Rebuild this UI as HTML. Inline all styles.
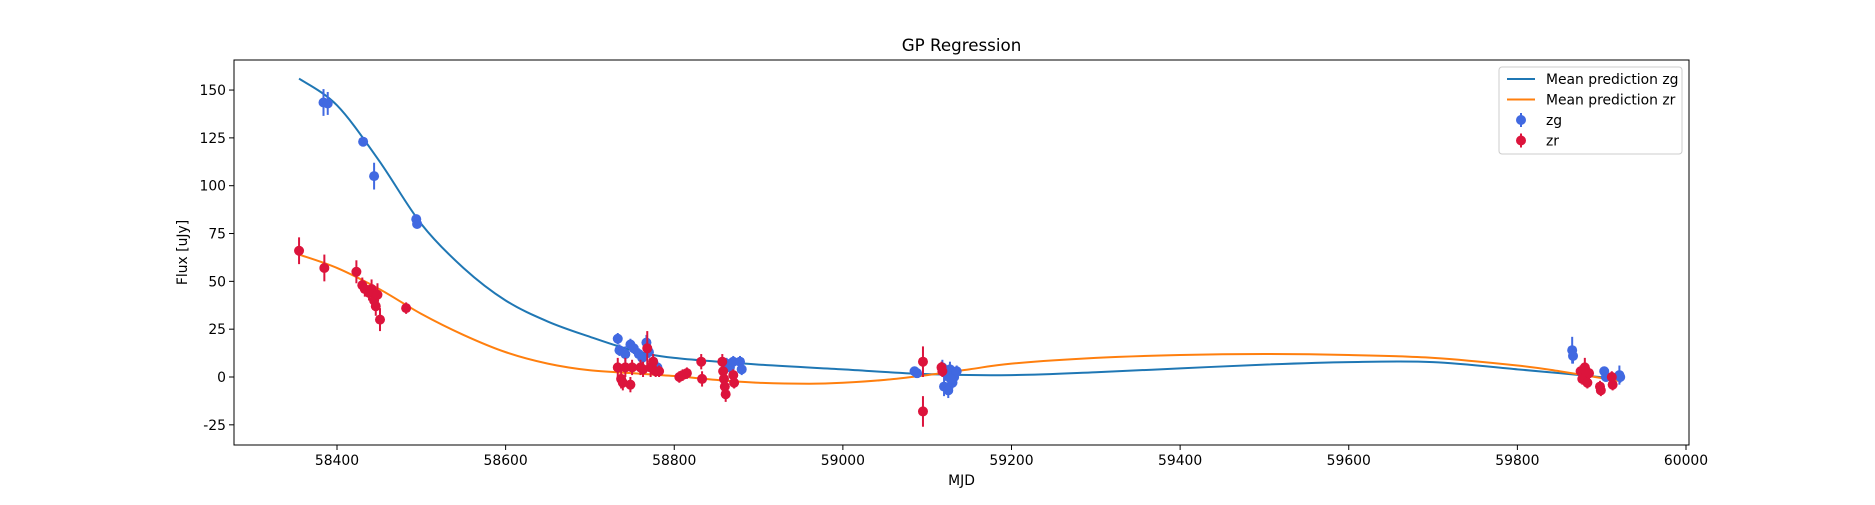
<!DOCTYPE html>
<html><head><meta charset="utf-8"><style>
body{margin:0;background:#fff;font-family:"Liberation Sans","DejaVu Sans",sans-serif}
svg text{font-family:"DejaVu Sans","Liberation Sans",sans-serif}
</style></head><body>
<svg id="chart" width="1875" height="500" xmlns="http://www.w3.org/2000/svg">
<rect width="1875" height="500" fill="#fff"/>
<g id="plot"></g>
</svg>
<script>
const xTicks=[58400,58600,58800,59000,59200,59400,59600,59800,60000];
const yTicks=[-25,0,25,50,75,100,125,150];
const zgMJD=[58384,58389,58431,58444,58494,58495,58733,58735,58742,58748,58752,58758,58762,58767,58770,58775,58780,58862,58866,58870,58878,58880,59085,59088,59118,59120,59122,59125,59127,59130,59132,59135,59128,59865,59866,59903,59905,59921,59922];
const zgFlux=[143.5,143,123,105,82.5,80,20,14,12,17,15,12,10,18,13,8,5,7,5,8,8,4,3,2,5,-5,2,-7,4,-3,0,3,-1,14,11,3,0,1,0];
const zgErr=[7,6,2,7,2,2,3,3,4,3,3,3,3,4,3,3,3,3,3,3,3,3,2,2,4,5,4,4,4,3,4,3,4,7,4,2,2,5,3];
const zrMJD=[58355,58385,58423,58430,58433,58438,58441,58444,58446,58448,58451,58482,58733,58737,58739,58742,58748,58750,58760,58763,58768,58772,58775,58778,58782,58806,58810,58815,58832,58833,58857,58858,58859,58860,58861,58870,58871,59095,59095,59117,59118,59875,59877,59880,59883,59885,59898,59899,59912,59913];
const zrFlux=[66,57,55,48,46,44,46,40,37,43,30,36,5,-1,-3,5,-4,5,5,4,15,5,8,3,3,0,1,2,8,-1,8,3,-1,-5,-9,1,-3,8,-18,5,3,3,-1,5,-3,2,-5,-7,0,-4];
const zrErr=[7,7,6,4,4,4,5,4,5,6,6,3,5,5,4,5,4,4,4,4,9,5,4,3,3,3,3,3,4,4,4,4,4,4,4,3,3,8,8,3,3,3,3,5,3,3,3,3,3,3];
const zgLineX=[58355,58400,58450,58500,58550,58600,58650,58700,58750,58800,58900,59000,59100,59200,59300,59400,59500,59600,59700,59800,59850,59920];
const zgLineY=[156,142,113,80,57,40,29,21,14,10,6.5,4,1.5,1,2.5,4.5,6.5,7.8,7.8,4,2,-1];
const zrLineX=[58355,58400,58450,58500,58550,58600,58650,58700,58750,58800,58850,58900,58960,59000,59050,59100,59150,59200,59300,59400,59500,59600,59700,59800,59850,59920];
const zrLineY=[64,57,46,33,22,13,7,3.5,2,0.5,-1.5,-3,-3.5,-3,-1.5,1,4,7,10,11.5,12,11.5,10,6,3,-2];

const L=234,R=1689,T=60,B=445;
const X=v=>337+(v-58400)*(1349/1600);
const Y=v=>377-v*1.913;
const NS="http://www.w3.org/2000/svg";
const g=document.getElementById('plot');
function mk(t,a){const e=document.createElementNS(NS,t);for(const k in a)e.setAttribute(k,a[k]);g.appendChild(e);return e;}
function curve(xs,ys){const p=xs.map((x,i)=>[X(x),Y(ys[i])]);let d=`M${p[0][0]},${p[0][1]}`;
for(let i=0;i<p.length-1;i++){const p0=p[i-1]||p[i],p1=p[i],p2=p[i+1],p3=p[i+2]||p2;
d+=` C${p1[0]+(p2[0]-p0[0])/6},${p1[1]+(p2[1]-p0[1])/6} ${p2[0]-(p3[0]-p1[0])/6},${p2[1]-(p3[1]-p1[1])/6} ${p2[0]},${p2[1]}`;}return d;}

let e;
e=mk('text',{x:(L+R)/2,y:51,'text-anchor':'middle','font-size':'16.7'});e.textContent='GP Regression';


xTicks.forEach(t=>{mk('line',{x1:X(t),x2:X(t),y1:B,y2:B+5,stroke:'#000','stroke-width':1});
e=mk('text',{x:X(t),y:B+20,'text-anchor':'middle','font-size':'13.9'});e.textContent=t;

});
yTicks.forEach(t=>{mk('line',{x1:L-5,x2:L,y1:Y(t),y2:Y(t),stroke:'#000','stroke-width':1});
e=mk('text',{x:L-8,y:Y(t)+5,'text-anchor':'end','font-size':'13.9'});e.textContent=t;

});
e=mk('text',{x:(L+R)/2,y:485,'text-anchor':'middle','font-size':'13.9'});e.textContent='MJD';


e=mk('text',{x:187,y:(T+B)/2,'text-anchor':'middle','font-size':'13.9',transform:`rotate(-90 187 ${(T+B)/2})`});e.textContent='Flux [uJy]';



e=mk('path',{d:curve(zgLineX,zgLineY),fill:'none',stroke:'#1f77b4','stroke-width':2});


e=mk('path',{d:curve(zrLineX,zrLineY),fill:'none',stroke:'#ff7f0e','stroke-width':2});



function pts(xs,ys,es,c,n){xs.forEach((x,i)=>{
const l=mk('line',{x1:X(x),x2:X(x),y1:Y(ys[i]-es[i]),y2:Y(ys[i]+es[i]),stroke:c,'stroke-width':2});


const p=mk('circle',{cx:X(x),cy:Y(ys[i]),r:5,fill:c});

});}
pts(zgMJD,zgFlux,zgErr,'#4169e1','zg');
pts(zrMJD,zrFlux,zrErr,'#dc143c','zr');

e=mk('rect',{x:L,y:T,width:R-L,height:B-T,fill:'none',stroke:'#000','stroke-width':1});



e=mk('rect',{x:1499,y:67,width:183,height:87,rx:3,fill:'#fff','fill-opacity':0.8,stroke:'#ccc'});


const items=[['line','#1f77b4','Mean prediction zg'],['line','#ff7f0e','Mean prediction zr'],['pt','#4169e1','zg'],['pt','#dc143c','zr']];
items.forEach((it,i)=>{const y=79+i*20.5;
if(it[0]=='line'){mk('line',{x1:1507,x2:1535,y1:y,y2:y,stroke:it[1],'stroke-width':2});}
else{mk('line',{x1:1521,x2:1521,y1:y-7,y2:y+7,stroke:it[1],'stroke-width':2});mk('circle',{cx:1521,cy:y,r:5,fill:it[1]});}
const t=mk('text',{x:1546,y:y+5,'font-size':'13.9'});t.textContent=it[2];

});
</script>
</body></html>
